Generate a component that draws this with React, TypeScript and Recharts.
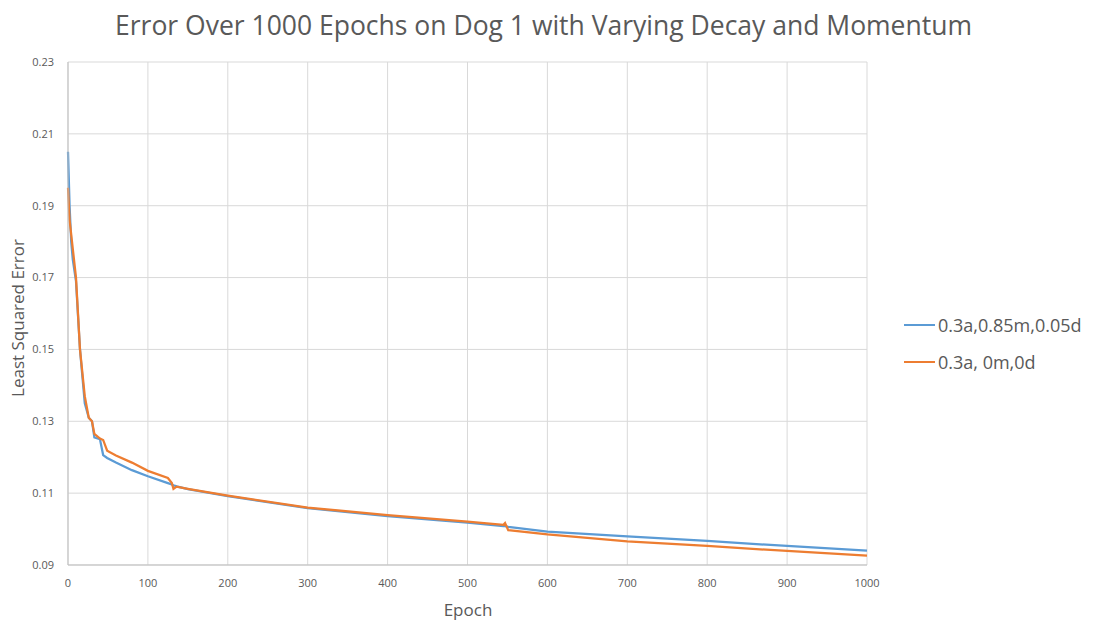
import * as React from "react";
import { LineChart, Line, XAxis, YAxis, CartesianGrid } from "recharts";

// epochs where the curves were sampled from the picture
const epochs = [0, 2, 4, 6, 10, 15, 21, 26, 30, 33, 40, 44, 49, 60, 80, 100, 125, 130, 132, 136, 150, 200, 300, 400, 500, 545, 547, 551, 600, 700, 800, 900, 1000];

const momentumDecay = [0.205, 0.19, 0.18, 0.175, 0.169, 0.15, 0.135, 0.131, 0.13, 0.1255, 0.125, 0.1206, 0.1198, 0.1185, 0.1164, 0.1147, 0.1128, 0.1124, 0.1122, 0.1119, 0.1111, 0.1092, 0.1058, 0.1036, 0.1018, 0.1008, 0.1008, 0.1006, 0.0993, 0.098, 0.0967, 0.0953, 0.094];

const plain = [0.195, 0.186, 0.182, 0.178, 0.17, 0.15, 0.137, 0.131, 0.13, 0.1265, 0.1252, 0.1248, 0.1218, 0.1205, 0.1185, 0.1162, 0.1142, 0.1128, 0.1112, 0.1118, 0.1112, 0.1093, 0.106, 0.1039, 0.1021, 0.1012, 0.1017, 0.0997, 0.0985, 0.0966, 0.0953, 0.0939, 0.0926];

const xTicks = [0, 100, 200, 300, 400, 500, 600, 700, 800, 900, 1000];
const yTicks = [0.09, 0.11, 0.13, 0.15, 0.17, 0.19, 0.21, 0.23];

const seriesNames = ["0.3a,0.85m,0.05d", "0.3a, 0m,0d"];
const colors = ["#5b9bd5", "#ed7d31"];

const data = epochs.map((epoch, i) => ({ epoch, a: momentumDecay[i], b: plain[i] }));

const font = "'Open Sans', sans-serif";
const textColor = "#595959";

export default function App() {
  return (
    <div style={{ position: "fixed", left: 0, top: 0, width: 1095, height: 624, background: "#fff", fontFamily: font, color: textColor, overflow: "hidden" }}>
      <div style={{ position: "absolute", top: 7, left: 0, width: 1087, textAlign: "center", fontSize: 26.5 }}>
        Error Over 1000 Epochs on Dog 1 with Varying Decay and Momentum
      </div>
      <div
        style={{
          position: "absolute",
          left: 17,
          top: 318,
          fontSize: 17,
          whiteSpace: "nowrap",
          transform: "translate(-50%, -50%) rotate(-90deg)",
        }}
      >
        Least Squared Error
      </div>
      <div style={{ position: "absolute", left: 468, top: 609, fontSize: 17, transform: "translate(-50%, -50%)" }}>Epoch</div>
      <div style={{ position: "absolute", left: 904, top: 306, fontSize: 18 }}>
        {seriesNames.map((name, i) => (
          <div key={name} style={{ display: "flex", alignItems: "center", height: 37 }}>
            <span style={{ display: "inline-block", width: 31, height: 2, background: colors[i], marginRight: 3 }} />
            {name}
          </div>
        ))}
      </div>
      <div style={{ position: "absolute", left: 0, top: 0 }}>
        <LineChart width={1095} height={624} data={data} margin={{ top: 62, right: 228, bottom: 29, left: 8 }}>
          <CartesianGrid stroke="#d9d9d9" />
          <XAxis
            dataKey="epoch"
            type="number"
            domain={[0, 1000]}
            ticks={xTicks}
            tickLine={false}
            axisLine={{ stroke: "#bfbfbf" }}
            height={30}
            tick={{ fontSize: 11, fill: textColor, fontFamily: font }}
            tickMargin={8}
          />
          <YAxis
            type="number"
            domain={[0.09, 0.23]}
            ticks={yTicks}
            tickFormatter={(v: number) => v.toFixed(2)}
            tickLine={false}
            axisLine={{ stroke: "#bfbfbf" }}
            width={60}
            tick={{ fontSize: 11, fill: textColor, fontFamily: font }}
            tickMargin={8}
          />
          <Line type="linear" dataKey="a" name={seriesNames[0]} stroke={colors[0]} strokeWidth={2.25} dot={false} isAnimationActive={false} />
          <Line type="linear" dataKey="b" name={seriesNames[1]} stroke={colors[1]} strokeWidth={2.25} dot={false} isAnimationActive={false} />
        </LineChart>
      </div>
    </div>
  );
}
